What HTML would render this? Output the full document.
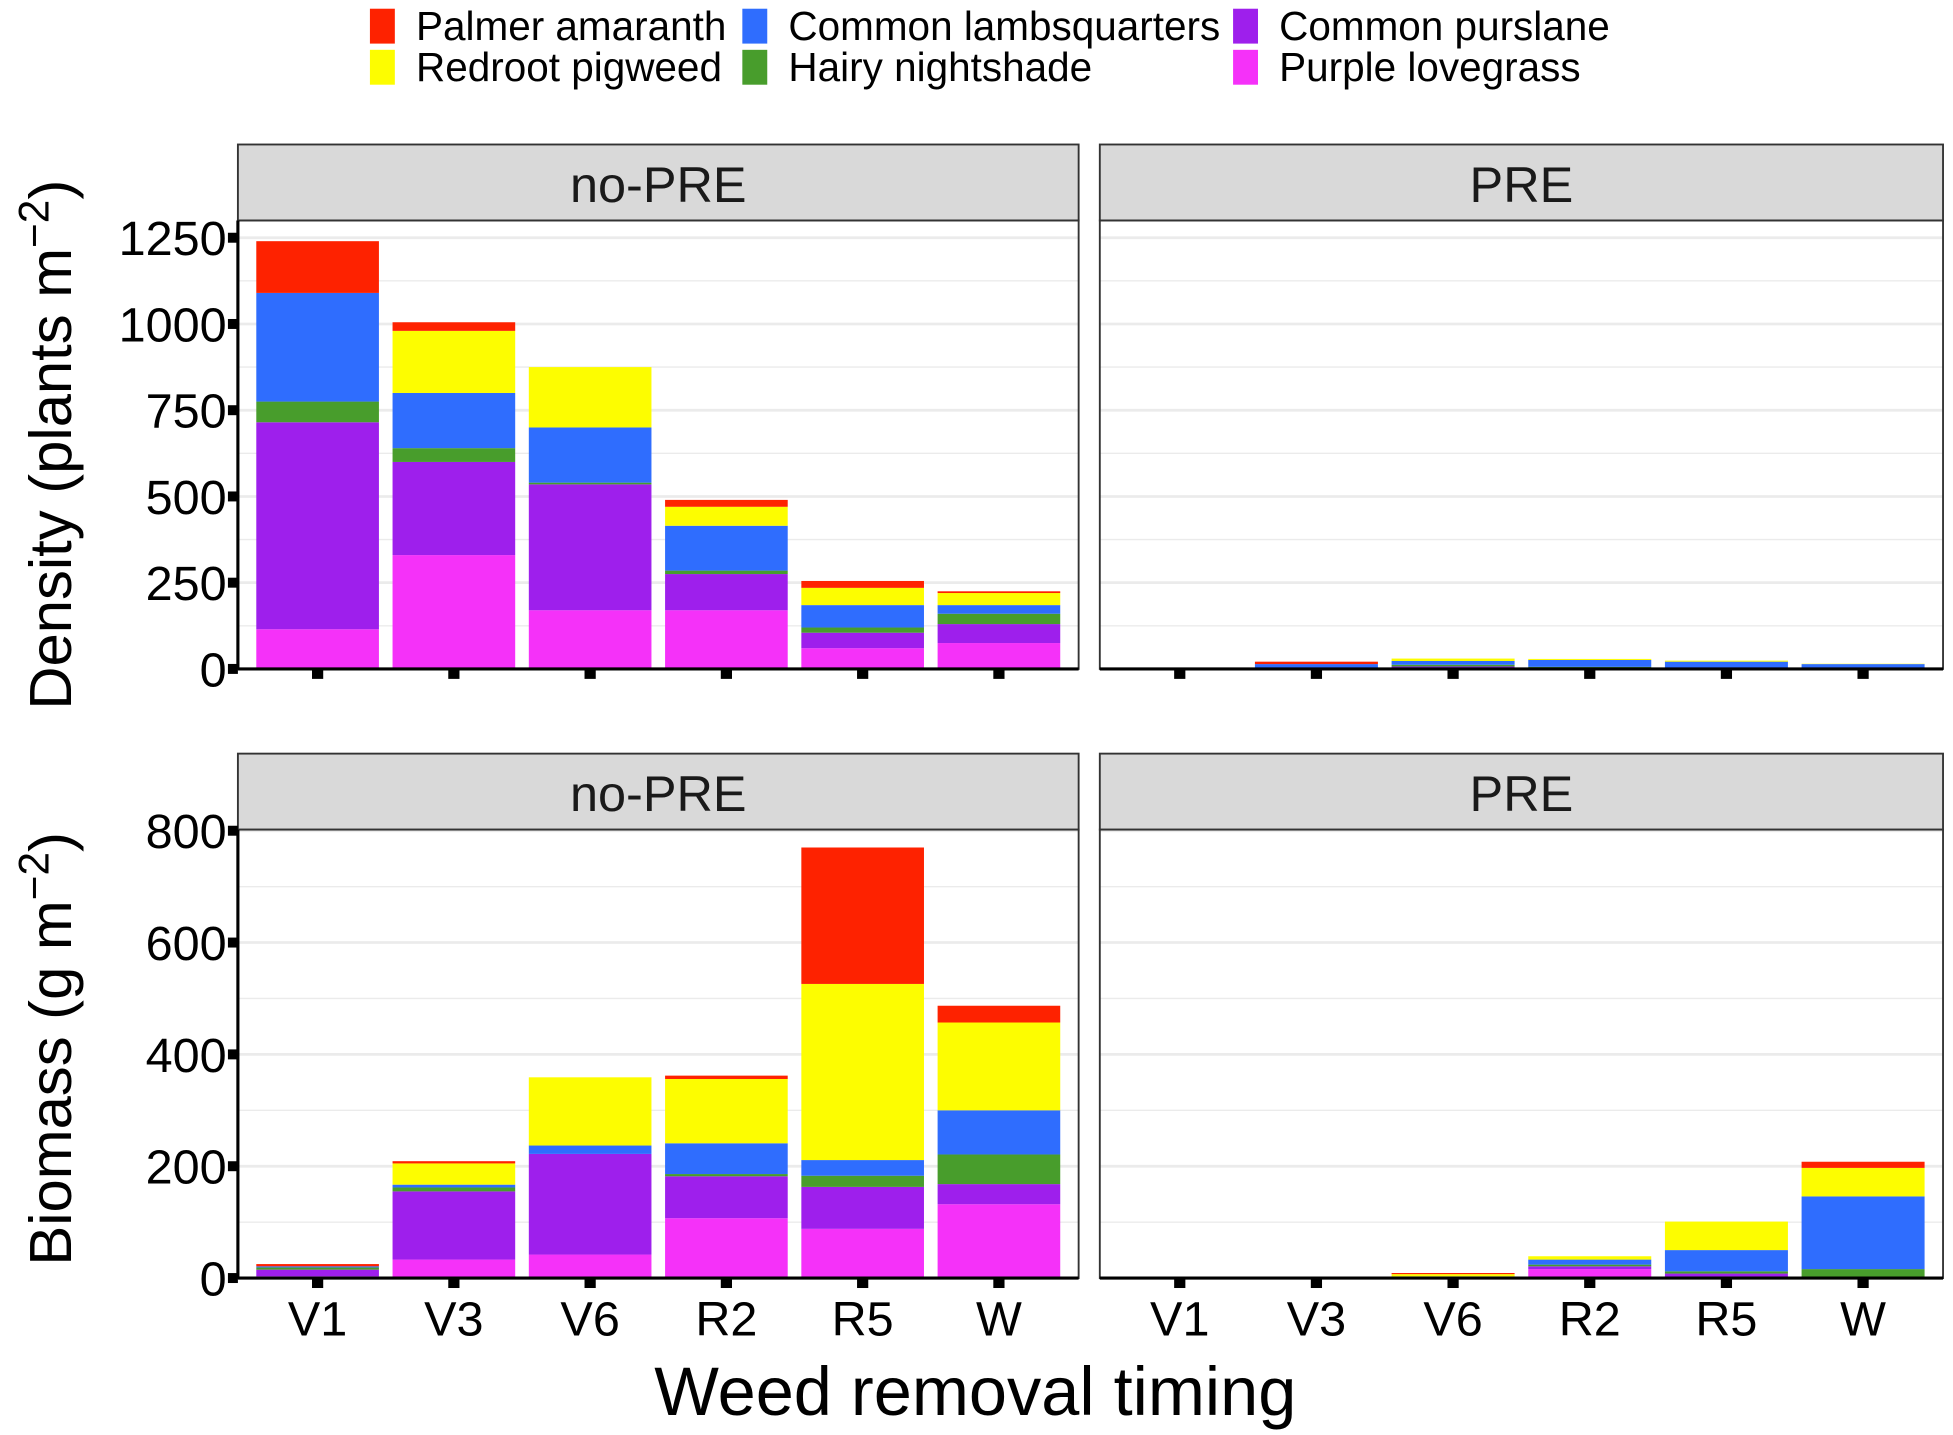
<!DOCTYPE html>
<html><head><meta charset="utf-8"><style>
html,body{margin:0;padding:0;background:#fff;}
svg{display:block;font-family:"Liberation Sans",Arial,sans-serif;}
</style></head><body>
<svg id="chart" width="1953" height="1435" viewBox="0 0 1568 1152" preserveAspectRatio="none" xmlns="http://www.w3.org/2000/svg"></svg>
<script>
const categories = ["V1","V3","V6","R2","R5","W"];
const species = ["Purple lovegrass","Common purslane","Hairy nightshade","Common lambsquarters","Redroot pigweed","Palmer amaranth"];
const colors = ["#f531f9","#9e1fec","#489d2c","#2f6dfe","#fdfd00","#fe2200"];
// density no-PRE, per species (bottom to top), per category
const densNoPreLovegrass = [115,330,170,170,60,75];
const densNoPrePurslane  = [600,270,365,105,45,55];
const densNoPreNightsh   = [60,40,5,10,15,30];
const densNoPreLambsq    = [315,160,160,130,65,25];
const densNoPrePigweed   = [0,180,175,55,50,35];
const densNoPrePalmer    = [150,25,0,20,20,5];
const densPreLovegrass = [0,0,1,0,0,0];
const densPrePurslane  = [0,0,6,0,1,1];
const densPreNightsh   = [0,3,5,6,1,0];
const densPreLambsq    = [0,11,11,20,19,13];
const densPrePigweed   = [0,0,7,3,3,1];
const densPrePalmer    = [0,7,0,0,0,0];
const bioNoPreLovegrass = [3,33,42,107,88,132];
const bioNoPrePurslane  = [12,122,180,75,75,36];
const bioNoPreNightsh   = [4,7,0,4,20,53];
const bioNoPreLambsq    = [2,5,15,55,28,79];
const bioNoPrePigweed   = [0,38,122,115,315,157];
const bioNoPrePalmer    = [4,4,0,6,244,30];
const bioPreLovegrass = [0,0,0,16,0,0];
const bioPrePurslane  = [0,0,2,5,8,2];
const bioPreNightsh   = [0,0,0,3,4,14];
const bioPreLambsq    = [0,0,1,9,38,130];
const bioPrePigweed   = [0,0,4,6,51,51];
const bioPrePalmer    = [0,0,2,0,0,11];
const densTicks = [0,250,500,750,1000,1250];
const bioTicks = [0,200,400,600,800];

const NS="http://www.w3.org/2000/svg";
const svg=document.getElementById('chart');
function mk(tag,attrs,parent){const e=document.createElementNS(NS,tag);for(const k in attrs)e.setAttribute(k,attrs[k]);(parent||svg).appendChild(e);return e;}

// legend
const legendItems=[["Palmer amaranth",5,297,21],["Redroot pigweed",4,297,54],["Common lambsquarters",3,596,21],["Hairy nightshade",2,596,54],["Common purslane",1,990,21],["Purple lovegrass",0,990,54]];
legendItems.forEach(it=>{
  const g=mk('g',{});
  
  
  mk('rect',{x:it[2],y:it[3]-14,width:20,height:28,fill:colors[it[1]]},g);
  const t=mk('text',{x:it[2]+37,y:it[3]+11,'font-size':32.5,fill:'#000'},g);
  t.textContent=it[0];
});

const panels=[
 {x0:191,x1:866,y0:177,y1:537,sy:116,label:"no-PRE",max:1300,ticks:densTicks,minor:125,data:[densNoPreLovegrass,densNoPrePurslane,densNoPreNightsh,densNoPreLambsq,densNoPrePigweed,densNoPrePalmer],yaxis:true,xlab:false,name:'density-no-pre'},
 {x0:883,x1:1560,y0:177,y1:537,sy:116,label:"PRE",max:1300,ticks:densTicks,minor:125,data:[densPreLovegrass,densPrePurslane,densPreNightsh,densPreLambsq,densPrePigweed,densPrePalmer],yaxis:false,xlab:false,name:'density-pre'},
 {x0:191,x1:866,y0:666,y1:1026,sy:605,label:"no-PRE",max:802,ticks:bioTicks,minor:100,data:[bioNoPreLovegrass,bioNoPrePurslane,bioNoPreNightsh,bioNoPreLambsq,bioNoPrePigweed,bioNoPrePalmer],yaxis:true,xlab:true,name:'biomass-no-pre'},
 {x0:883,x1:1560,y0:666,y1:1026,sy:605,label:"PRE",max:802,ticks:bioTicks,minor:100,data:[bioPreLovegrass,bioPrePurslane,bioPreNightsh,bioPreLambsq,bioPrePigweed,bioPrePalmer],yaxis:false,xlab:true,name:'biomass-pre'}
];

panels.forEach(p=>{
  const g=mk('g',{});
  
  
  const yS=v=>p.y1-(v/p.max)*(p.y1-p.y0);
  const step=(p.x1-p.x0)/6.17;
  const xS=i=>p.x0+(i+0.585)*step;
  const strip=mk('rect',{x:p.x0,y:p.sy,width:p.x1-p.x0,height:p.y0-p.sy,fill:'#d9d9d9',stroke:'#333',"stroke-width":1.5},g);
  
  
  const st=mk('text',{x:(p.x0+p.x1)/2,y:p.sy+46,'font-size':40.5,'text-anchor':'middle',fill:'#1a1a1a'},g);
  st.textContent=p.label;
  for(let v=p.minor;v<p.max;v+=p.minor){
    const major=p.ticks.indexOf(v)>=0;
    mk('line',{x1:p.x0,x2:p.x1,y1:yS(v),y2:yS(v),stroke:'#ebebeb','stroke-width':major?2.2:1.1},g);
  }
  categories.forEach((c,i)=>{
    let cum=0;
    p.data.forEach((series,s)=>{
      const v=series[i]; if(v<=0) return;
      const r=mk('rect',{x:xS(i)-step*0.45,y:yS(cum+v),width:step*0.9,height:yS(cum)-yS(cum+v),fill:colors[s]},g);
      
      
      cum+=v;
    });
    mk('rect',{x:xS(i)-4.5,y:p.y1,width:9,height:8,fill:'#000'},g);
    if(p.xlab){
      const t=mk('text',{x:xS(i),y:p.y1+46,'font-size':39,'text-anchor':'middle',fill:'#000'},g);
      
      
      t.textContent=c;
    }
  });
  mk('rect',{x:p.x0,y:p.y0,width:p.x1-p.x0,height:p.y1-p.y0,fill:'none',stroke:'#333','stroke-width':1.5},g);
  mk('line',{x1:p.x0,x2:p.x1,y1:p.y1,y2:p.y1,stroke:'#000','stroke-width':2.5},g);
  if(p.yaxis){
    mk('line',{x1:p.x0,x2:p.x0,y1:p.y0,y2:p.y1,stroke:'#000','stroke-width':2.5},g);
    p.ticks.forEach(v=>{
      mk('rect',{x:p.x0-8,y:yS(v)-4,width:8,height:8,fill:'#000'},g);
      const t=mk('text',{x:p.x0-9,y:yS(v)+14,'font-size':39,'text-anchor':'end',fill:'#000'},g);
      
      
      t.textContent=v;
    });
  }
});

const yt1=mk('text',{transform:'translate(57,357) rotate(-90)','font-size':48,'text-anchor':'middle',fill:'#000'});


yt1.innerHTML='Density (plants m<tspan dy="-18" font-size="34">−2</tspan><tspan dy="18">)</tspan>';
const yt2=mk('text',{transform:'translate(57,842) rotate(-90)','font-size':48,'text-anchor':'middle',fill:'#000'});


yt2.innerHTML='Biomass (g m<tspan dy="-18" font-size="34">−2</tspan><tspan dy="18">)</tspan>';
const xt=mk('text',{x:783,y:1136,'font-size':55,'text-anchor':'middle',fill:'#000'});


xt.textContent='Weed removal timing';
</script>
</body></html>
